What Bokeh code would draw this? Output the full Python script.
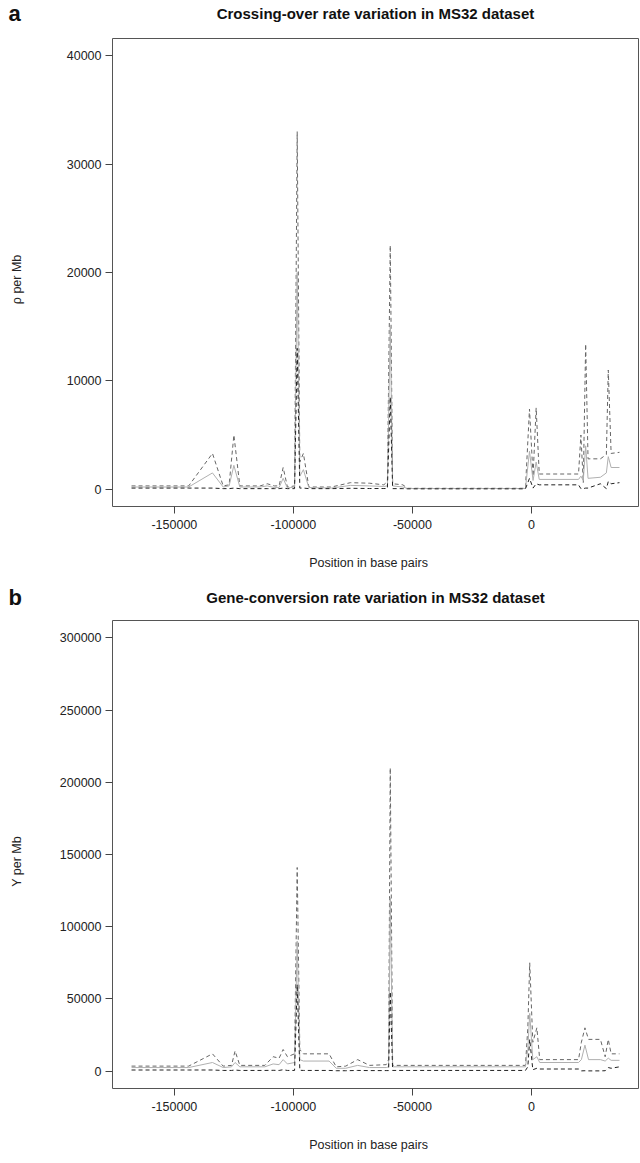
from bokeh.plotting import figure
from bokeh.layouts import column
from bokeh.models import Label, FixedTicker
from bokeh.embed import file_html
from bokeh.resources import INLINE

# ---------------- data ----------------
x_co = [-168000, -144000, -134000, -129500, -127000, -125000, -122500, -114000, -111000,
        -108000, -106000, -104300, -102500, -99500, -98400, -97300, -95800, -93500,
        -84000, -76000, -68000, -62000, -60500, -59300, -58300, -54000, -52000,
        -2500, -800, 700, 2000, 3300, 19800, 20800, 21800, 22800, 23800, 29000,
        31500, 32300, 33500, 37000]
co_upper = [300, 300, 3300, 300, 400, 5000, 300, 300, 500,
            300, 300, 2000, 200, 300, 33000, 2500, 3300, 200,
            200, 600, 550, 400, 700, 22500, 500, 400, 80,
            80, 7400, 1200, 7500, 1400, 1400, 5000, 600, 13400, 2800, 2800,
            3200, 11000, 3300, 3400]
co_median = [200, 200, 1500, 200, 300, 2200, 200, 200, 300,
             150, 150, 1000, 100, 200, 20000, 1200, 1800, 150,
             100, 350, 300, 250, 300, 15000, 300, 200, 60,
             60, 3500, 800, 2500, 900, 900, 1200, 800, 4000, 1000, 1100,
             1500, 3000, 2000, 2000]
co_lower = [100, 100, 100, 50, 50, 100, 50, 50, 50,
            50, 50, 100, 50, 50, 13000, 100, 100, 50,
            50, 80, 60, 60, 60, 8500, 50, 50, 30,
            30, 1000, 100, 500, 400, 400, 50, 50, 100, 100, 500,
            50, 700, 500, 600]

x_gc = [-168000, -144000, -134000, -129500, -126000, -124500, -122500, -112000, -108500,
        -106000, -104300, -102500, -99500, -98400, -97300, -95800, -85000, -82000,
        -78000, -73000, -68000, -61000, -60000, -59300, -58300, -2500, -1500, -700,
        600, 2300, 3500, 19800, 21000, 22500, 24000, 29000, 31000, 32300, 33500, 37000]
gc_upper = [3500, 3500, 12000, 3500, 4000, 14000, 4000, 4000, 10000,
            9000, 15000, 10000, 12000, 141000, 15000, 12000, 12000, 3000,
            3500, 8000, 4000, 4500, 8000, 210000, 4000, 4000, 30000, 75000,
            20000, 30000, 8000, 8000, 20000, 30000, 22000, 22000, 10000, 22000, 12000, 12000]
gc_median = [2500, 2500, 6000, 2500, 3000, 6000, 3000, 3000, 5000,
             4500, 8000, 5000, 6000, 90000, 8000, 7000, 7000, 2000,
             2000, 4000, 2500, 2500, 3000, 120000, 3000, 3000, 15000, 40000,
             8000, 10000, 6000, 6000, 8000, 18000, 8000, 8000, 7000, 9000, 7500, 7500]
gc_lower = [800, 800, 800, 500, 500, 800, 500, 500, 600,
            500, 1000, 500, 500, 60000, 600, 500, 500, 300,
            300, 500, 400, 400, 400, 55000, 500, 500, 3000, 22000,
            1000, 2000, 1500, 1500, 200, 300, 200, 200, 300, 2500, 2000, 3000]

x_ticks = [-150000, -100000, -50000, 0]
x_tick_labels = ["-150000", "-100000", "-50000", "0"]
co_ticks = [0, 10000, 20000, 30000, 40000]
gc_ticks = [0, 50000, 100000, 150000, 200000, 250000, 300000]

FONT = "Liberation Sans"
HEAD = 32
FRAME_H = 468


def make_header(letter, title, letter_y):
    h = figure(width=640, height=HEAD, output_backend="svg", toolbar_location=None,
               x_range=(0, 1), y_range=(0, 1), tools="", title=None,
               x_axis_location=None, y_axis_location=None,
               min_border=0, outline_line_color=None)
    h.grid.visible = False
    try:
        h.frame_align = False
    except Exception:
        pass
    h.add_layout(Label(x=8, y=HEAD - letter_y, x_units="screen", y_units="screen",
                       text=letter, text_font=FONT, text_font_style="bold",
                       text_font_size="22px", text_color="#111111",
                       text_baseline="middle", text_align="left"))
    h.add_layout(Label(x=375, y=HEAD - letter_y, x_units="screen", y_units="screen",
                       text=title, text_font=FONT, text_font_style="bold",
                       text_font_size="15px", text_color="#111111",
                       text_baseline="middle", text_align="center"))
    return h


def make_panel(ylabel, xs, up, med, lo, yticks, yrange, height, ylab_standoff):
    p = figure(width=640, height=height, output_backend="svg", toolbar_location=None,
               x_range=(-176000, 45000), y_range=yrange, tools="", title=None)
    p.min_border_left = 112
    p.min_border_right = 2
    p.min_border_top = 6
    p.min_border_bottom = height - 6 - FRAME_H
    p.grid.visible = False
    p.outline_line_color = "#555555"
    p.outline_line_width = 1

    p.line(xs, up, line_color="#666666", line_dash="4 3", line_width=1)
    p.line(xs, med, line_color="#b0b0b0", line_width=1)
    p.line(xs, lo, line_color="#222222", line_dash="4 3", line_width=1)

    for ax in (p.xaxis[0], p.yaxis[0]):
        ax.axis_line_color = None
        ax.major_tick_line_color = "#444444"
        ax.major_tick_out = 7
        ax.major_tick_in = 0
        ax.minor_tick_line_color = None
        ax.major_label_text_font = FONT
        ax.major_label_text_font_size = "12.5px"
        ax.major_label_text_color = "#222222"
        ax.axis_label_text_font = FONT
        ax.axis_label_text_font_size = "12.5px"
        ax.axis_label_text_font_style = "normal"
        ax.axis_label_text_color = "#222222"

    p.xaxis.ticker = FixedTicker(ticks=x_ticks)
    p.xaxis.major_label_overrides = dict(zip(x_ticks, x_tick_labels))
    p.xaxis.axis_label = "Position   in   base pairs"
    p.xaxis.major_label_standoff = 6
    p.xaxis.axis_label_standoff = 24

    p.yaxis.ticker = FixedTicker(ticks=yticks)
    p.yaxis.major_label_overrides = {t: str(t) for t in yticks}
    p.yaxis.major_label_orientation = "horizontal"
    p.yaxis.major_label_standoff = 4
    p.yaxis.axis_label = ylabel
    p.yaxis.axis_label_standoff = ylab_standoff
    return p


h1 = make_header("a", "Crossing-over rate variation in MS32 dataset", 13)
p1 = make_panel("ρ   per   Mb", x_co, co_upper, co_median, co_lower,
                co_ticks, (-1600, 41600), 582 - HEAD, 40)
h2 = make_header("b", "Gene-conversion rate variation in MS32 dataset", 15)
p2 = make_panel("Y   per   Mb", x_gc, gc_upper, gc_median, gc_lower,
                gc_ticks, (-12000, 312000), 581 - HEAD, 33)

layout = column(h1, p1, h2, p2, spacing=0)
open("out.html", "w").write(file_html(layout, INLINE))
